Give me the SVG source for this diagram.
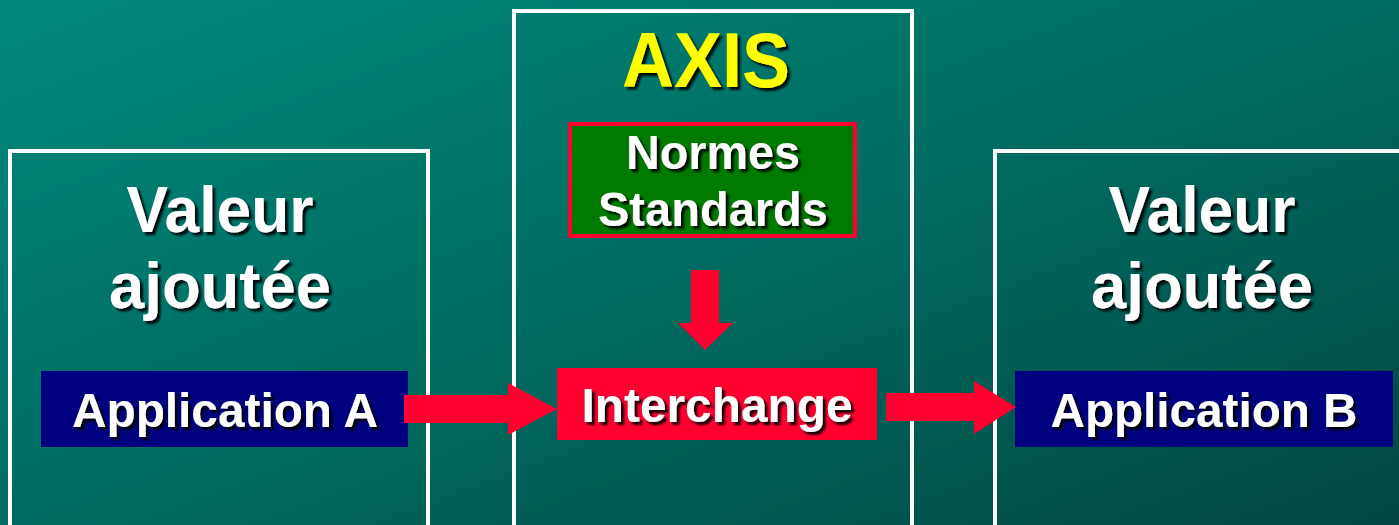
<svg xmlns="http://www.w3.org/2000/svg" width="1399" height="525" viewBox="0 0 1399 525">
<defs>
<linearGradient id="bg" x1="0" y1="0" x2="1" y2="1">
<stop offset="0" stop-color="#008a7b"/>
<stop offset="0.5" stop-color="#006b60"/>
<stop offset="1" stop-color="#014740"/>
</linearGradient>
<filter id="sh" x="-10%" y="-10%" width="130%" height="140%">
<feDropShadow dx="3" dy="3" stdDeviation="0.8" flood-color="#000" flood-opacity="0.9"/>
</filter>
</defs>
<style>
.frame{fill:none;stroke:#ffffff;stroke-width:4}
.t{font-family:"Liberation Sans",Arial,sans-serif;font-weight:bold;fill:#ffffff;text-anchor:middle;filter:url(#sh)}
.big{font-size:65px}
.mid{font-size:48px}
.arrow{fill:#ff0030}
</style>
<rect width="1399" height="525" fill="url(#bg)"/>
<g id="left-panel">
<rect class="frame" x="10" y="151" width="418" height="400"/>
<text class="t big" x="220" y="232" textLength="187" lengthAdjust="spacingAndGlyphs">Valeur</text>
<text class="t big" x="220" y="308" textLength="222" lengthAdjust="spacingAndGlyphs">ajoutée</text>
</g>
<g id="axis-panel">
<rect class="frame" x="514" y="11" width="398" height="540"/>
<text class="t" x="706" y="87" style="font-size:77px;fill:#ffff00" textLength="168" lengthAdjust="spacingAndGlyphs">AXIS</text>
</g>
<g id="right-panel">
<rect class="frame" x="995" y="151" width="420" height="400"/>
<text class="t big" x="1202" y="232" textLength="187" lengthAdjust="spacingAndGlyphs">Valeur</text>
<text class="t big" x="1202" y="308" textLength="222" lengthAdjust="spacingAndGlyphs">ajoutée</text>
</g>
<g id="normes">
<rect x="570" y="124" width="285" height="112" fill="#007a00" stroke="#ff0030" stroke-width="4"/>
<text class="t mid" x="713" y="169" textLength="174" lengthAdjust="spacingAndGlyphs">Normes</text>
<text class="t mid" x="713" y="226" textLength="230" lengthAdjust="spacingAndGlyphs">Standards</text>
</g>
<g id="app-a">
<rect x="41" y="371" width="367" height="76" fill="#000080"/>
<text class="t mid" x="225" y="427" textLength="306" lengthAdjust="spacingAndGlyphs">Application A</text>
</g>
<g id="interchange">
<rect x="557" y="368" width="320" height="72" fill="#ff0030"/>
<text class="t mid" x="717" y="422" textLength="271" lengthAdjust="spacingAndGlyphs">Interchange</text>
</g>
<g id="app-b">
<rect x="1015" y="371" width="378" height="76" fill="#000080"/>
<text class="t mid" x="1204" y="427" textLength="307" lengthAdjust="spacingAndGlyphs">Application B</text>
</g>
<g id="connectors">
<polygon class="arrow" points="691,270 719,270 719,323 733,323 705,350 678,323 691,323"/>
<polygon class="arrow" points="404,395 508,395 508,383 557,409 508,435 508,423 404,423"/>
<polygon class="arrow" points="886,393 974,393 974,381 1016,407 974,434 974,421 886,421"/>
</g>
</svg>
